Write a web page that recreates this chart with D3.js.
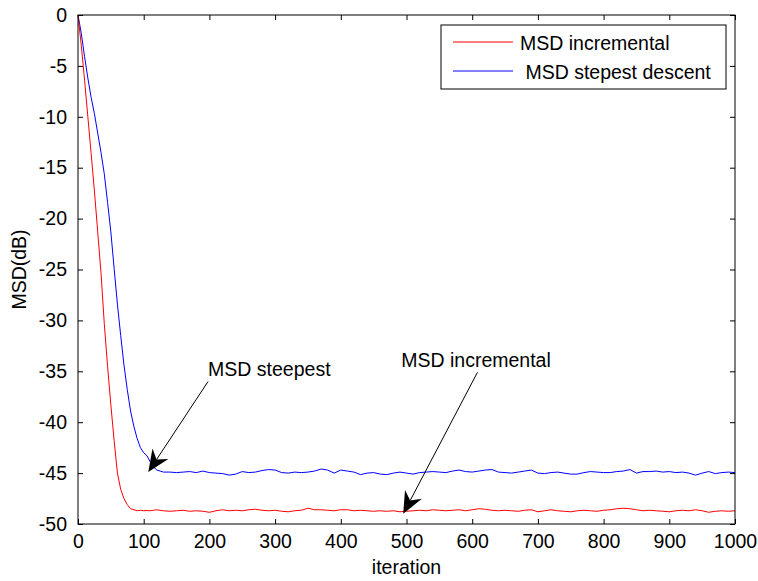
<!DOCTYPE html>
<html>
<head>
<meta charset="utf-8">
<script src="https://cdn.jsdelivr.net/npm/d3@7"></script>
<style>
  body { margin: 0; background: #fff; }
  text { font-family: "Liberation Sans", Arial, sans-serif; fill: #000; }
</style>
</head>
<body>
<div id="container"></div>
<script>
// iterations for both series
var iterEarly = [0, 5, 10, 15, 20, 25, 30, 35, 40, 45, 50, 55, 60, 65, 70, 75, 80, 85,
                 90, 95, 100, 105, 110, 115, 120, 125, 130];
var iterLate = d3.range(140, 1001, 10);

// MSD (dB) of the incremental algorithm
var msdIncEarly = [0, -3.0, -6.4, -10.0, -13.6, -17.3, -21.3, -25.3, -30.3, -34.5, -38.3, -41.8,
                   -45.0, -46.6, -47.5, -48.1, -48.5, -48.6, -48.7, -48.65, -48.7, -48.68, -48.7,
                   -48.65, -48.6, -48.66, -48.7];
var msdIncLate = [-48.75, -48.7, -48.65, -48.75, -48.7, -48.75, -48.85, -48.7, -48.6, -48.7,
                  -48.65, -48.7, -48.6, -48.55, -48.65, -48.7, -48.65, -48.75, -48.8, -48.7,
                  -48.65, -48.45, -48.6, -48.6, -48.65, -48.7, -48.6, -48.6, -48.7, -48.65,
                  -48.7, -48.75, -48.7, -48.75, -48.7, -48.8, -48.75, -48.7, -48.65, -48.7,
                  -48.6, -48.65, -48.7, -48.65, -48.6, -48.7, -48.6, -48.5, -48.55, -48.65,
                  -48.7, -48.65, -48.7, -48.75, -48.65, -48.6, -48.8, -48.7, -48.6, -48.7,
                  -48.75, -48.8, -48.7, -48.65, -48.7, -48.75, -48.65, -48.6, -48.5, -48.45,
                  -48.5, -48.6, -48.7, -48.65, -48.7, -48.75, -48.8, -48.7, -48.65, -48.7,
                  -48.6, -48.7, -48.85, -48.75, -48.7, -48.75, -48.7];

// MSD (dB) of the steepest descent algorithm
var msdSteepEarly = [0, -1.8, -4.1, -6.2, -8.1, -9.7, -11.6, -13.5, -15.6, -18.4, -21.3, -24.9,
                     -28.4, -31.5, -34.4, -36.8, -38.9, -40.4, -41.6, -42.5, -43.0, -43.3, -43.9,
                     -44.4, -44.7, -44.8, -44.9];
var msdSteepLate = [-44.9, -44.95, -44.9, -44.85, -44.95, -44.8, -44.95, -45.0, -45.05, -45.2,
                    -45.1, -44.85, -44.95, -44.9, -44.75, -44.65, -44.7, -44.95, -45.0, -44.9,
                    -44.95, -44.9, -44.8, -44.6, -44.7, -45.0, -44.7, -44.8, -44.9, -45.15,
                    -45.0, -44.95, -45.1, -45.15, -45.0, -44.9, -45.0, -45.1, -44.95, -44.9,
                    -44.85, -44.9, -44.95, -44.8, -44.7, -44.85, -44.9, -44.8, -44.7, -44.65,
                    -44.9, -44.95, -45.0, -44.9, -44.8, -44.7, -45.0, -45.05, -44.95, -44.9,
                    -45.0, -45.1, -45.1, -44.95, -44.85, -44.9, -44.95, -44.95, -44.85, -44.8,
                    -44.65, -45.0, -44.85, -44.85, -44.8, -44.9, -44.85, -44.95, -44.9, -45.0,
                    -45.2, -45.0, -44.85, -45.05, -44.95, -44.9, -44.95];

var xTicks = d3.range(0, 1001, 100);
var yTicks = d3.range(-50, 1, 5);
var legendLabels = ["MSD incremental", " MSD stepest descent"];

// annotations: text position, arrow start and arrow tip in data units
var notes = [
    { label: "MSD steepest", text: [198, -35.5], from: [198, -36.0], to: [107, -44.9] },
    { label: "MSD incremental", text: [492, -34.6], from: [608, -35.1], to: [495, -49.0] }
];

var width = 758, height = 581;
var margin = { top: 15, right: 23, bottom: 57, left: 78 };
var w = width - margin.left - margin.right,
    h = height - margin.top - margin.bottom;
var fs = 19.5;

var svg = d3.select("#container").append("svg")
    .attr("width", width)
    .attr("height", height);

var g = svg.append("g")
    .attr("transform", "translate(" + margin.left + "," + margin.top + ")");

var x = d3.scaleLinear().domain([0, 1000]).range([0, w]);
var y = d3.scaleLinear().domain([-50, 0]).range([h, 0]);

function addAxis(axis, tr, showText) {
    var a = g.append("g")
        .attr("transform", tr)
        .call(axis.tickFormat(d => String(d)));
    a.select(".domain").remove();
    a.selectAll("line").attr("stroke", "#000");
    if (!showText) a.selectAll("text").remove();
    else a.selectAll("text").attr("font-size", fs).attr("fill", "#000");
    return a;
}

addAxis(d3.axisBottom(x).tickValues(xTicks).tickSize(-5).tickPadding(10), "translate(0," + h + ")", true);
addAxis(d3.axisTop(x).tickValues(xTicks).tickSize(-5), "translate(0,0)", false);
addAxis(d3.axisLeft(y).tickValues(yTicks).tickSize(-5).tickPadding(11), "translate(0,0)", true);
addAxis(d3.axisRight(y).tickValues(yTicks).tickSize(-5), "translate(" + w + ",0)", false);

// curves
var line = d3.line()
    .x(d => x(d[0]))
    .y(d => y(d[1]));

var allIter = iterEarly.concat(iterLate),
    allInc = msdIncEarly.concat(msdIncLate),
    allSteep = msdSteepEarly.concat(msdSteepLate);

var incData = allIter.map((it, i) => [it, allInc[i]]);
var steepData = allIter.map((it, i) => [it, allSteep[i]]);

g.append("path")
    .datum(steepData)
    .attr("fill", "none")
    .attr("stroke", "#0000ff")
    .attr("stroke-width", 1)
    .attr("d", line);

g.append("path")
    .datum(incData)
    .attr("fill", "none")
    .attr("stroke", "#ff0000")
    .attr("stroke-width", 1)
    .attr("d", line);

// frame
g.append("rect")
    .attr("width", w)
    .attr("height", h)
    .attr("fill", "none")
    .attr("stroke", "#000")
    .attr("stroke-width", 1);

// axis titles
g.append("text")
    .attr("x", w / 2)
    .attr("y", h + 50)
    .attr("text-anchor", "middle")
    .attr("font-size", fs)
    .text("iteration");

g.append("text")
    .attr("transform", "translate(" + (-52) + "," + (h / 2) + ") rotate(-90)")
    .attr("text-anchor", "middle")
    .attr("font-size", fs)
    .text("MSD(dB)");

// annotations with arrows
notes.forEach(function(n) {
    var tx = x(n.to[0]), ty = y(n.to[1]),
        fx = x(n.from[0]), fy = y(n.from[1]);
    var dx = fx - tx, dy = fy - ty, len = Math.sqrt(dx * dx + dy * dy);
    var ux = dx / len, uy = dy / len, px = -uy, py = ux;
    var hl = 22, hw = 9.5, notch = 15;

    g.append("line")
        .attr("x1", fx).attr("y1", fy)
        .attr("x2", tx + ux * notch).attr("y2", ty + uy * notch)
        .attr("stroke", "#000")
        .attr("stroke-width", 1);

    var pts = [
        [tx, ty],
        [tx + ux * hl + px * hw, ty + uy * hl + py * hw],
        [tx + ux * notch, ty + uy * notch],
        [tx + ux * hl - px * hw, ty + uy * hl - py * hw]
    ];
    g.append("polygon")
        .attr("points", pts.map(p => p.join(",")).join(" "))
        .attr("fill", "#000");

    g.append("text")
        .attr("x", x(n.text[0]))
        .attr("y", y(n.text[1]))
        .attr("font-size", fs)
        .text(n.label);
});

// legend
var lg = svg.append("g").attr("transform", "translate(441,25)");
lg.append("rect")
    .attr("width", 285)
    .attr("height", 64)
    .attr("fill", "#fff")
    .attr("stroke", "#000")
    .attr("stroke-width", 1);

[["#ff0000", 17], ["#0000ff", 46]].forEach(function(d, i) {
    lg.append("line")
        .attr("x1", 12).attr("x2", 72)
        .attr("y1", d[1]).attr("y2", d[1])
        .attr("stroke", d[0])
        .attr("stroke-width", 1);
    lg.append("text")
        .attr("x", 79)
        .attr("y", d[1] + 8)
        .attr("font-size", fs)
        .attr("xml:space", "preserve")
        .style("white-space", "pre")
        .text(legendLabels[i]);
});
</script>
</body>
</html>
